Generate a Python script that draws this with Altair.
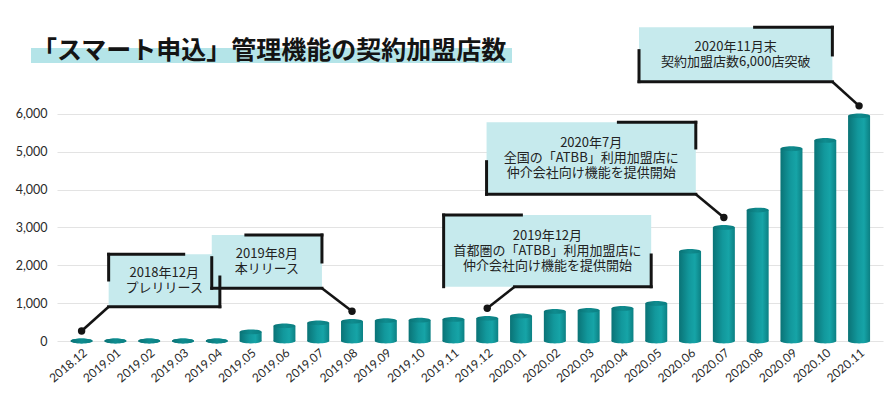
import json
import altair as alt
import pandas as pd

# ---- data -------------------------------------------------------------
months = ["2018.12", "2019.01", "2019.02", "2019.03", "2019.04", "2019.05",
          "2019.06", "2019.07", "2019.08", "2019.09", "2019.10", "2019.11",
          "2019.12", "2020.01", "2020.02", "2020.03", "2020.04", "2020.05",
          "2020.06", "2020.07", "2020.08", "2020.09", "2020.10", "2020.11"]
stores = [0, 0, 0, 0, 0, 240, 400, 480, 520, 540, 550, 570,
          600, 660, 780, 810, 860, 990, 2370, 3000, 3460, 5080, 5300, 5950]
y_ticks = [0, 1000, 2000, 3000, 4000, 5000, 6000]

title_text = "「スマート申込」管理機能の契約加盟店数"

note_events = [0, 8, 12, 19, 23]
note_texts = [
    ["2018年12月", "プレリリース"],
    ["2019年8月", "本リリース"],
    ["2019年12月", "首都圏の「ATBB」利用加盟店に", "仲介会社向け機能を提供開始"],
    ["2020年7月", "全国の「ATBB」利用加盟店に", "仲介会社向け機能を提供開始"],
    ["2020年11月末", "契約加盟店数6,000店突破"],
]

# annotation box placement in data units (left, right, bottom, top)
note_boxes = [
    (0.80, 4.09, 906, 2291),
    (3.85, 7.11, 1393, 2801),
    (10.71, 16.85, 1435, 3330),
    (11.98, 18.17, 3877, 5780),
    (16.49, 22.21, 6853, 8291),
]
# bracket segments (x, y, x2, y2) in data units
note_segments = [
    [(0.80, 2291, 3.02, 2291), (0.80, 2291, 0.80, 1612),
     (0.80, 906, 4.09, 906), (4.09, 1691, 4.09, 906)],
    [(4.86, 2801, 7.11, 2801), (7.11, 2801, 7.11, 2088),
     (3.85, 2202, 3.85, 1393), (3.85, 1393, 7.11, 1393)],
    [(10.71, 3330, 13.01, 3330), (10.71, 3330, 10.71, 1435),
     (12.81, 1435, 16.85, 1435), (16.85, 2273, 16.85, 1435)],
    [(15.88, 5780, 18.17, 5780), (18.17, 5780, 18.17, 5101),
     (11.98, 4739, 11.98, 3877), (11.98, 3877, 18.17, 3877)],
    [(19.91, 8291, 22.21, 8291), (22.21, 8291, 22.21, 7559),
     (16.49, 7673, 16.49, 6853), (16.49, 6853, 22.21, 6853)],
]
note_leader_start = [(0.80, 906), (7.11, 1393), (12.81, 1435),
                     (18.17, 3877), (22.21, 6853)]

# ---- layout constants -------------------------------------------------
W, H = 826, 333
Y_MAX = 8800
X_DOM = [-0.58, 23.56]
LINE_H = 15
line_h_data = LINE_H * Y_MAX / H

# ---- tables -----------------------------------------------------------
bars_df = pd.DataFrame({"idx": list(range(len(months))), "month": months,
                        "stores": stores})

box_df = pd.DataFrame([
    {"x": b[0], "x2": b[1], "y": b[2], "y2": b[3]} for b in note_boxes
])
text_rows = []
for b, t in zip(note_boxes, note_texts):
    cx, cy = (b[0] + b[1]) / 2, (b[2] + b[3]) / 2
    n = len(t)
    for k, line in enumerate(t):
        text_rows.append({"cx": cx, "cy": cy + ((n - 1) / 2 - k) * line_h_data,
                          "line": line})
text_df = pd.DataFrame(text_rows)
seg_df = pd.DataFrame([
    {"x": s[0], "y": s[1], "x2": s[2], "y2": s[3]}
    for segs in note_segments for s in segs
])
leader_df = pd.DataFrame([
    {"x": st[0], "y": st[1], "x2": e, "y2": stores[e]}
    for st, e in zip(note_leader_start, note_events)
])
dot_df = pd.DataFrame([{"x": e, "y": stores[e]} for e in note_events])
one = pd.DataFrame({"t": [title_text]})

# ---- scales / styles --------------------------------------------------
xs = alt.Scale(domain=X_DOM, nice=False, zero=False)
ys = alt.Scale(domain=[0, Y_MAX], nice=False, zero=False)

body_grad = alt.Gradient(
    gradient="linear", x1=0, x2=1, y1=0, y2=0,
    stops=[alt.GradientStop(color="#0a7376", offset=0),
           alt.GradientStop(color="#12989c", offset=0.45),
           alt.GradientStop(color="#16a4a7", offset=0.72),
           alt.GradientStop(color="#0c8083", offset=1)])
cap_grad = alt.Gradient(
    gradient="linear", x1=0, x2=1, y1=0, y2=0,
    stops=[alt.GradientStop(color="#0a7275", offset=0),
           alt.GradientStop(color="#0f8c8f", offset=0.5),
           alt.GradientStop(color="#0b7e81", offset=1)])

ellipse = ("M -1 0 C -1 -0.1215 -0.552 -0.22 0 -0.22 C 0.552 -0.22 1 -0.1215 1 0 "
           "C 1 0.1215 0.552 0.22 0 0.22 C -0.552 0.22 -1 0.1215 -1 0 Z")
BAR_W = 22

label_expr = json.dumps(months) + "[round(datum.value)]"


def x_axis():
    return alt.Axis(values=list(range(len(months))), labelExpr=label_expr,
                    labelAngle=-40, labelAlign="right", labelBaseline="top",
                    labelFont="Lato", labelFontSize=12, labelColor="#2a2a2a",
                    labelPadding=6, domain=False, ticks=False, grid=False,
                    title=None, labelOverlap=False)


def y_axis():
    return alt.Axis(values=y_ticks, format=",d", labelFont="Lato",
                    labelFontSize=12.5, labelColor="#2a2a2a", labelPadding=10,
                    domain=False, ticks=False, grid=True, gridColor="#e3e3e3",
                    title=None)


def X(field):
    return alt.X(field, type="quantitative", scale=xs, axis=x_axis())


def Y(field):
    return alt.Y(field, type="quantitative", scale=ys, axis=y_axis())


base = alt.Chart(bars_df)

bottom_ell = base.transform_calculate(base0="0").mark_point(
    shape=ellipse, filled=True, size=BAR_W * BAR_W,
    color=body_grad, opacity=1, strokeWidth=0).encode(
    x=X("idx"), y=Y("base0"))
bars = base.transform_calculate(base0="0").mark_bar(
    orient="vertical", size=BAR_W, color=body_grad, opacity=1).encode(
    x=X("idx"), y=Y("stores"), y2="base0:Q")
caps = base.mark_point(shape=ellipse, filled=True, size=BAR_W * BAR_W,
                       color=cap_grad, opacity=1, strokeWidth=0).encode(
    x=X("idx"), y=Y("stores"))

band = alt.Chart(one).mark_rect(color="#b4e4e8").encode(
    x=alt.value(-26), x2=alt.value(455), y=alt.value(40), y2=alt.value(55))
title = alt.Chart(one).mark_text(
    font="Noto Sans CJK JP", fontSize=25, fontWeight="bold", color="#141414",
    align="left", baseline="alphabetic").encode(
    x=alt.value(-25), y=alt.value(51), text="t:N")

box_fill = alt.Chart(box_df).mark_rect(color="#c6eaed", opacity=1).encode(
    x=X("x"), x2="x2:Q", y=Y("y"), y2="y2:Q")
segs = alt.Chart(seg_df).mark_rule(color="#141414", strokeWidth=3,
                                   strokeCap="square").encode(
    x=X("x"), x2="x2:Q", y=Y("y"), y2="y2:Q")
leaders = alt.Chart(leader_df).mark_rule(color="#141414", strokeWidth=2.6,
                                         y2Offset=-10).encode(
    x=X("x"), x2="x2:Q", y=Y("y"), y2="y2:Q")
dots = alt.Chart(dot_df).mark_circle(color="#141414", size=55, opacity=1,
                                     yOffset=-10).encode(
    x=X("x"), y=Y("y"))
note_text = alt.Chart(text_df).mark_text(
    font="Noto Sans CJK JP", fontSize=13, color="#222222",
    align="center", baseline="middle").encode(
    x=X("cx"), y=Y("cy"), text="line:N")

chart = alt.layer(
    bottom_ell, bars, caps, band, title, box_fill, segs, leaders,
    dots, note_text
).properties(
    width=W, height=H,
    autosize=alt.AutoSizeParams(type="none"),
    padding={"left": 49, "top": 0, "right": 3, "bottom": 49},
    background="white",
).configure_view(stroke=None)

chart.save("out.html", embed_options={"renderer": "svg", "actions": False})
